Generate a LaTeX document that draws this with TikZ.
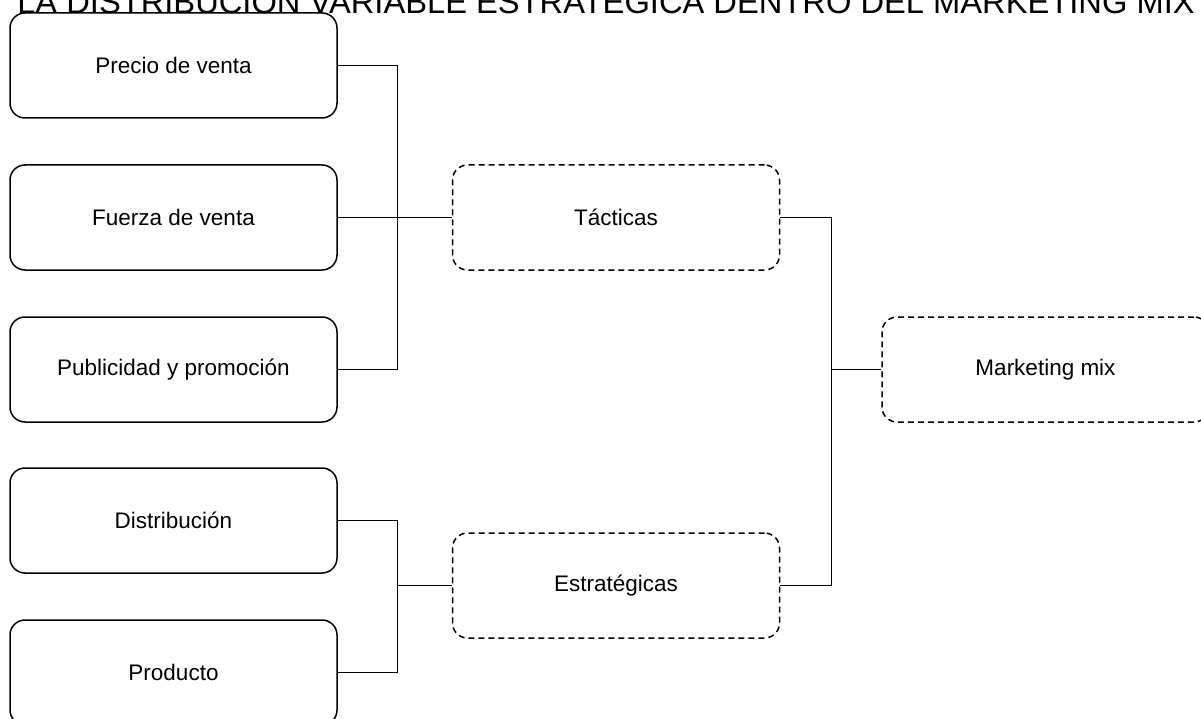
\documentclass[tikz,border=0pt]{standalone}
\usepackage{fontspec}
\setmainfont{Liberation Sans}
\begin{document}
\begin{tikzpicture}[x=1pt,y=-1pt,
  item/.style={draw, line width=1.5pt, rounded corners=15pt, minimum width=327pt, minimum height=105pt, font=\fontsize{22.5}{26}\selectfont, inner sep=0pt},
  group/.style={item, dashed, dash pattern=on 6pt off 4pt},
  link/.style={draw, line width=0.9pt}]
\useasboundingbox (0,0) rectangle (1201,719);
% title
\node[anchor=base, inner sep=0pt] (title) at (606,14) {\resizebox{1177pt}{!}{LA DISTRIBUCIÓN VARIABLE ESTRATÉGICA DENTRO DEL MARKETING MIX}};
% left column
\node[item] (precio) at (173.5,65.5) {Precio de venta};
\node[item] (fuerza) at (173.5,217.5) {Fuerza de venta};
\node[item] (publi) at (173.5,369.5) {Publicidad y promoción};
\node[item] (distr) at (173.5,520.5) {Distribución};
\node[item] (prod) at (173.5,672.5) {Producto};
% groups
\node[group] (tact) at (616,217.5) {Tácticas};
\node[group] (estr) at (616,585.5) {Estratégicas};
\node[group] (mix) at (1045.5,369.5) {Marketing mix};
% connectors
\path[link] (precio.east) -| (397,369.5) -- (publi.east);
\path[link] (fuerza.east) -- (tact.west);
\path[link] (distr.east) -| (397,672.5) -- (prod.east);
\path[link] (397,585.5) -- (estr.west);
\path[link] (tact.east) -| (831,585.5) -- (estr.east);
\path[link] (831,369.5) -- (mix.west);
\end{tikzpicture}
\end{document}
